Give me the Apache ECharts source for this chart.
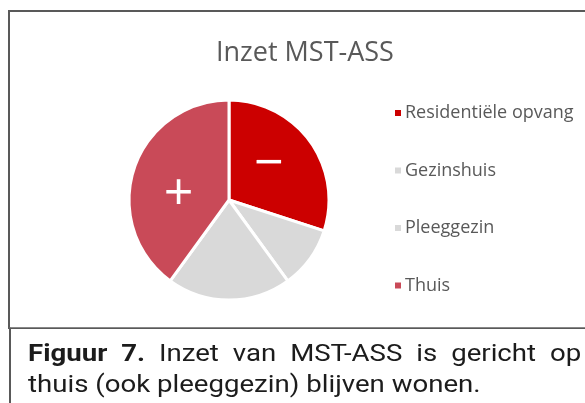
<!DOCTYPE html>
<html>
<head>
<meta charset="utf-8">
<script src="https://cdn.jsdelivr.net/npm/echarts@6/dist/echarts.min.js"></script>
<style>
	html, body { margin: 0; padding: 0; background: #fff; }
	#wrap { position: relative; width: 585px; height: 403px; overflow: hidden; }
	#box { position: absolute; left: 8px; top: 10px; width: 620px; height: 315px; border: 2px solid #595959; }
	#chart { position: absolute; left: 0; top: 0; width: 585px; height: 330px; }
	#cap { position: absolute; left: 9px; top: 327px; width: 620px; height: 90px; border-left: 2px solid #595959; border-top: 1px solid #888; }
	.capLine { position: absolute; left: 28px; font-family: Roboto, sans-serif; font-size: 23px; line-height: 23px; color: #1c1c1c; white-space: nowrap; transform-origin: 0 0; transform: scaleX(1.2); }
	#line1 { top: 342px; width: 461px; text-align: justify; text-align-last: justify; }
	#line2 { top: 373px; }
</style>
</head>
<body>
<div id="wrap">
	<div id="box"></div>
	<div id="chart"></div>
	<div id="cap"></div>
	<div class="capLine" id="line1"><b>Figuur 7.</b> Inzet van MST-ASS is gericht op</div>
	<div class="capLine" id="line2">thuis (ook pleeggezin) blijven wonen.</div>
</div>
<script>
//数据
var categories = ['Residentiële opvang', 'Gezinshuis', 'Pleeggezin', 'Thuis'];
var values = [30, 10, 20, 40];
var colors = ['#CC0000', '#D9D9D9', '#D9D9D9', '#C94A58'];
var marks = ['−', '', '', '+']; //扇区内的符号

(function() {
	var data = [];
	for (var i = 0; i < categories.length; i++) {
		data[i] = {
			name: categories[i],
			value: values[i],
			itemStyle: { color: colors[i] },
			label: { formatter: marks[i], offset: i == 3 ? [0, 12] : [-3, -4] }
		};
	}
	var myChart = echarts.init(document.getElementById('chart'));
	myChart.setOption({
		animation: false,
		title: {
			text: 'Inzet MST-ASS',
			left: 211,
			top: 35,
			textStyle: { fontFamily: 'Open Sans', fontSize: 27, fontWeight: 'normal', color: '#595959' }
		},
		legend: {
			orient: 'vertical',
			left: 388,
			top: 99,
			itemGap: 39.5,
			icon: 'rect',
			itemWidth: 8,
			itemHeight: 8,
			textStyle: { fontFamily: 'Open Sans', fontSize: 18, color: '#595959', padding: [0, 0, 0, -2] },
			data: categories
		},
		series: [{
			type: 'pie',
			center: [229, 200],
			radius: 100,
			startAngle: 90,
			clockwise: true,
			silent: true,
			itemStyle: { borderColor: '#fff', borderWidth: 3 },
			label: {
				position: 'inside',
				color: '#fff',
				fontFamily: 'Open Sans',
				fontSize: 52
			},
			labelLine: { show: false },
			data: data
		}]
	});
})();
</script>
</body>
</html>
